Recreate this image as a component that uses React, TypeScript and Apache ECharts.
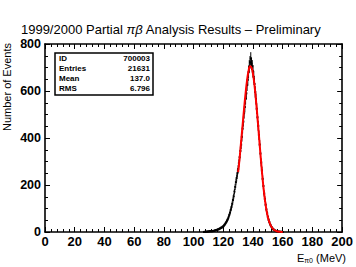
import React, { useEffect, useRef } from "react";
import * as echarts from "echarts";

const titleText = "1999/2000 Partial {i|πβ} Analysis Results – Preliminary";
const yAxisTitle = "Number of Events";
const xAxisTitle = "E{s|π0} (MeV)";

const statLabels = ["ID", "Entries", "Mean", "RMS"];
const statValues = ["700003", "21631", "137.0", "6.796"];

const energies = [
  107, 107.5, 108, 108.5, 109, 109.5, 110, 110.5, 111, 111.5, 112, 112.5,
  113, 113.5, 114, 114.5, 115, 115.5, 116, 116.5, 117, 117.5, 118, 118.5,
  119, 119.5, 120, 120.5, 121, 121.5, 122, 122.5, 123, 123.5, 124, 124.5,
  125, 125.5, 126, 126.5, 127, 127.5, 128, 128.5, 129, 129.5, 130, 130.5,
  131, 131.5, 132, 132.5, 133, 133.5, 134, 134.5, 135, 135.5, 136, 136.5,
  137, 137.5, 138, 138.5, 139, 139.5, 140, 140.5, 141, 141.5, 142, 142.5,
  143, 143.5, 144, 144.5, 145, 145.5, 146, 146.5, 147, 147.5, 148, 148.5,
  149, 149.5, 150, 150.5, 151, 151.5, 152, 152.5, 153, 153.5, 154, 154.5,
  155, 155.5, 156, 156.5, 157, 157.5, 158, 158.5, 159, 159.5, 160,
];
const counts = [
  0, 1, 0, 1, 2, 1, 3, 2, 4, 3, 4, 3,
  4, 5, 5, 7, 8, 8, 10, 11, 12, 14, 16, 18,
  19, 22, 24, 28, 32, 37, 42, 48, 54, 62, 72, 82,
  94, 106, 120, 136, 152, 172, 192, 212, 230, 250, 268, 292,
  318, 345, 372, 405, 440, 470, 505, 532, 566, 590, 625, 648,
  680, 705, 722, 738, 716, 705, 684, 660, 630, 596, 566, 525,
  488, 452, 412, 372, 334, 296, 262, 226, 196, 164, 140, 116,
  96, 80, 64, 52, 42, 33, 27, 21, 16, 12, 10, 7,
  6, 4, 3, 2, 2, 1, 1, 1, 0, 1, 0,
];

const fitEnergies = [
  130, 131, 132, 133, 134, 135, 136, 137, 138, 139, 140, 141, 142, 143, 144,
  145, 146, 147, 148, 149, 150, 151, 152, 153, 154, 155, 156, 157, 158, 159, 160,
];
const fitValues = [
  255, 315, 385, 455, 525, 590, 645, 685, 705, 700, 672, 625, 560, 488, 410,
  332, 258, 192, 138, 95, 64, 42, 27, 17, 10, 6, 3.5, 2, 1, 0.5, 0.2,
];

const FONT = "Liberation Sans";

export default function App() {
  const ref = useRef<HTMLDivElement>(null);
  useEffect(() => {
    const chart = echarts.init(ref.current!, null, { renderer: "svg" });
    const axisCommon = {
      type: "value" as const,
      axisLine: { show: true, onZero: false, lineStyle: { color: "#000", width: 1.6 } },
      axisTick: { show: true, inside: true, length: 5, lineStyle: { color: "#000", width: 1 } },
      minorTick: { show: true, length: 3, lineStyle: { color: "#000", width: 1 } },
      splitLine: { show: false },
    };
    const labelStyle = {
      color: "#000",
      fontSize: 13,
      fontWeight: "bold" as const,
      fontFamily: FONT,
    };
    const rowY = [58.5, 68.5, 78.5, 88.5];
    const statGraphics: any[] = [];
    statLabels.forEach((l, i) => {
      statGraphics.push({
        type: "text",
        x: 59,
        y: rowY[i],
        style: {
          text: l,
          fill: "#000",
          font: `bold 8px "${FONT}"`,
          textAlign: "left",
          textVerticalAlign: "middle",
        },
      });
      statGraphics.push({
        type: "text",
        x: 150,
        y: rowY[i],
        style: {
          text: statValues[i],
          fill: "#000",
          font: `bold 8px "${FONT}"`,
          textAlign: "right",
          textVerticalAlign: "middle",
        },
      });
    });

    chart.setOption({
      animation: false,
      backgroundColor: "#fff",
      grid: { left: 45, right: 11, top: 44, bottom: 35, containLabel: false },
      xAxis: [
        {
          ...axisCommon,
          position: "bottom",
          min: 0,
          max: 200,
          interval: 20,
          minorTick: { ...axisCommon.minorTick, splitNumber: 5 },
          axisLabel: { ...labelStyle, margin: 3 },
        },
        {
          ...axisCommon,
          position: "top",
          min: 0,
          max: 200,
          interval: 20,
          minorTick: { ...axisCommon.minorTick, splitNumber: 5 },
          axisLabel: { show: false },
        },
      ],
      yAxis: [
        {
          ...axisCommon,
          position: "left",
          min: 0,
          max: 800,
          interval: 200,
          minorTick: { ...axisCommon.minorTick, splitNumber: 4 },
          axisLabel: { ...labelStyle, fontSize: 12.5, margin: 4 },
        },
        {
          ...axisCommon,
          position: "right",
          min: 0,
          max: 800,
          interval: 200,
          minorTick: { ...axisCommon.minorTick, splitNumber: 4 },
          axisLabel: { show: false },
        },
      ],
      series: [
        {
          type: "custom",
          xAxisIndex: 0,
          yAxisIndex: 0,
          encode: { x: 0, y: 1 },
          data: energies.map((e, i) => [e, counts[i]]),
          renderItem: (params: any, api: any) => {
            const x = api.value(0);
            const n = api.value(1);
            const err = Math.sqrt(n);
            const p = api.coord([x, n]);
            const lo = api.coord([x, Math.max(0, n - err)]);
            const hi = api.coord([x, n + err]);
            return {
              type: "group",
              children: [
                {
                  type: "line",
                  shape: { x1: p[0], y1: lo[1], x2: p[0], y2: hi[1] },
                  style: { stroke: "#000", lineWidth: 1 },
                },
                {
                  type: "rect",
                  shape: { x: p[0] - 1, y: p[1] - 1, width: 2, height: 2 },
                  style: { fill: "#000" },
                },
              ],
            };
          },
          z: 2,
        },
        {
          type: "line",
          xAxisIndex: 0,
          yAxisIndex: 0,
          data: fitEnergies.map((e, i) => [e, fitValues[i]]),
          smooth: true,
          showSymbol: false,
          lineStyle: { color: "#ff0000", width: 2 },
          z: 3,
        },
      ],
      graphic: [
        {
          type: "text",
          x: 171,
          y: 29.5,
          style: {
            text: titleText,
            fill: "#000",
            font: `13px "${FONT}"`,
            textAlign: "center",
            textVerticalAlign: "middle",
            rich: {
              i: { fontStyle: "italic", fontSize: 13, fontFamily: FONT, fill: "#000" },
            },
          },
        },
        {
          type: "text",
          x: 7,
          y: 43,
          rotation: Math.PI / 2,
          style: {
            text: yAxisTitle,
            fill: "#000",
            font: `11px "${FONT}"`,
            textAlign: "right",
            textVerticalAlign: "middle",
          },
        },
        {
          type: "text",
          x: 346,
          y: 258,
          style: {
            text: xAxisTitle,
            fill: "#000",
            font: `11px "${FONT}"`,
            textAlign: "right",
            textVerticalAlign: "middle",
            rich: {
              s: { fontSize: 7, fontFamily: FONT, fill: "#000", verticalAlign: "bottom", padding: [4, 0, 0, 0] },
            },
          },
        },
        {
          type: "rect",
          shape: { x: 55, y: 53, width: 98, height: 42 },
          style: { fill: "#fff", stroke: "#000", lineWidth: 1.5 },
          z: 10,
        },
        ...statGraphics.map((g) => ({ ...g, z: 11 })),
      ],
    });
    return () => chart.dispose();
  }, []);
  return (
    <div
      ref={ref}
      style={{ position: "absolute", left: 0, top: 0, width: 356, height: 267, background: "#fff" }}
    />
  );
}
